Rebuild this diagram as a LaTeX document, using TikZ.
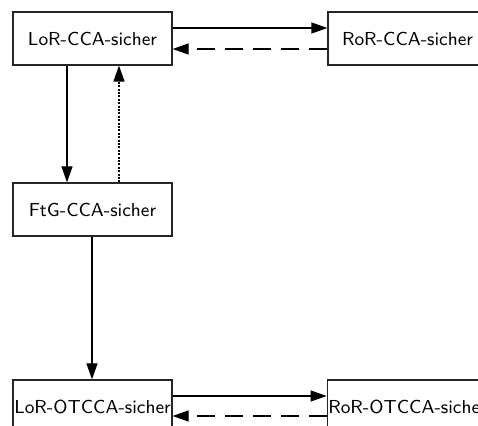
\documentclass[tikz,border=0pt]{standalone}
\usetikzlibrary{arrows.meta}
\begin{document}
\begin{tikzpicture}[x=0.5pt,y=-0.5pt,
  box/.style={draw=black!85,line width=0.6pt,rectangle,minimum width=79.5pt,minimum height=26.5pt,inner sep=0.5pt,font=\sffamily\fontsize{9.4}{11}\selectfont},
  conn/.style={line width=0.6pt,-{Triangle[length=8pt,width=5.5pt]}},
  dash2/.style={conn,dash pattern=on 9pt off 5pt},
  dot2/.style={conn,dash pattern=on 1pt off 0.7pt}]
\useasboundingbox (0,0) rectangle (478,426);
\clip (0,0) rectangle (478,426);
\node[box] (lc) at (92.5,38.5) {LoR-CCA-sicher};
\node[box] (rc) at (407.5,38.5) {RoR-CCA-sicher};
\node[box] (ftg) at (92.5,209.5) {FtG-CCA-sicher};
\node[box] (lo) at (92.5,406.5) {LoR-OTCCA-sicher};
\node[box] (ro) at (407.5,406.5) {RoR-OTCCA-sicher};
\draw[conn] (lc.east |- 0,28) -- (rc.west |- 0,28);
\draw[dash2] (rc.west |- 0,49) -- (lc.east |- 0,49);
\draw[conn] (lc.south -| 67,0) -- (ftg.north -| 67,0);
\draw[dot2] (ftg.north -| 119,0) -- (lc.south -| 119,0);
\draw[conn] (ftg.south -| 92,0) -- (lo.north -| 92,0);
\draw[conn] (lo.east |- 0,396) -- (ro.west |- 0,396);
\draw[dash2] (ro.west |- 0,416) -- (lo.east |- 0,416);
\end{tikzpicture}
\end{document}
